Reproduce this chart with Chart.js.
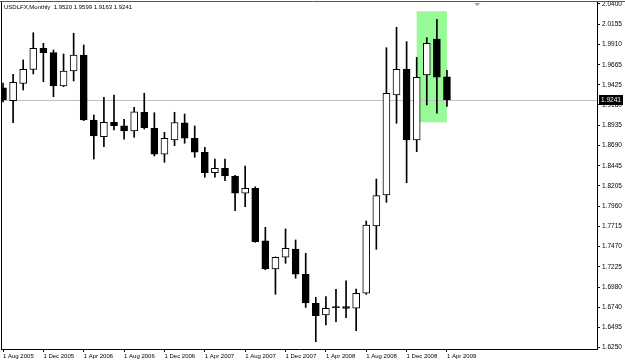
<!DOCTYPE html>
<html>
<head>
<meta charset="utf-8">
<script src="https://cdn.jsdelivr.net/npm/chart.js@4.4.1/dist/chart.umd.min.js"></script>
<style>
  html, body { margin: 0; padding: 0; background: #fff; }
  canvas { display: block; }
</style>
</head>
<body>
<canvas id="chart" width="625" height="361"></canvas>
<script>
// monthly bars, Aug 2005 .. Apr 2009 (index 0..44)
const opens = [1.9386, 1.9232, 1.9442, 1.9611, 1.9865, 1.9812, 1.9410, 1.9591, 1.9784, 1.8999,
  1.8797, 1.8971, 1.8927, 1.8866, 1.9092, 1.8899, 1.8585, 1.8757, 1.8966, 1.8778,
  1.8609, 1.8363, 1.8416, 1.8318, 1.8114, 1.8174, 1.7538, 1.7200, 1.7341, 1.7441,
  1.7136, 1.6785, 1.6644, 1.6740, 1.6746, 1.6725, 1.6906, 1.7719, 1.8093, 1.9301,
  1.9611, 1.8757, 1.9543, 1.9977, 1.9520];
const highs = [1.9446, 1.9551, 1.9724, 2.0053, 1.9925, 1.9844, 1.9796, 2.0046, 1.9905, 1.9059,
  1.9273, 1.9301, 1.9007, 1.9152, 1.9322, 1.9087, 1.8850, 1.9092, 1.9071, 1.8927,
  1.8669, 1.8528, 1.8528, 1.8330, 1.8443, 1.8193, 1.7703, 1.7345, 1.7683, 1.7550,
  1.7389, 1.6858, 1.6865, 1.6954, 1.7055, 1.6958, 1.7779, 1.8286, 1.9872, 2.0119,
  1.9945, 1.9756, 1.9993, 2.0215, 1.9599];
const lows = [1.9216, 1.8966, 1.9361, 1.9555, 1.9462, 1.9280, 1.9401, 1.9470, 1.8991, 1.8528,
  1.8677, 1.8878, 1.8766, 1.8790, 1.8890, 1.8564, 1.8488, 1.8689, 1.8718, 1.8549,
  1.8307, 1.8307, 1.8266, 1.7904, 1.7952, 1.7522, 1.7191, 1.6894, 1.7268, 1.7087,
  1.6735, 1.6321, 1.6523, 1.6563, 1.6611, 1.6454, 1.6894, 1.7437, 1.8005, 1.8959,
  1.8242, 1.8616, 1.9180, 1.9080, 1.9163];
const closes = [1.9241, 1.9454, 1.9611, 1.9865, 1.9812, 1.9410, 1.9591, 1.9784, 1.8999, 1.8806,
  1.8971, 1.8930, 1.8866, 1.9099, 1.8906, 1.8585, 1.8778, 1.8969, 1.8778, 1.8609,
  1.8363, 1.8416, 1.8323, 1.8114, 1.8174, 1.7529, 1.7200, 1.7341, 1.7450, 1.7136,
  1.6789, 1.6636, 1.6725, 1.6733, 1.6722, 1.6906, 1.7731, 1.8085, 1.9322, 1.9611,
  1.8757, 1.9515, 1.9925, 1.9515, 1.9241];

const xTickPos = [0, 4, 8, 12, 16, 20, 24, 28, 32, 36, 40, 44];
const xTickLabels = ['1 Aug 2005', '1 Dec 2005', '1 Apr 2006', '1 Aug 2006', '1 Dec 2006', '1 Apr 2007',
  '1 Aug 2007', '1 Dec 2007', '1 Apr 2008', '1 Aug 2008', '1 Dec 2008', '1 Apr 2009'];
const yTicks = [2.0400, 2.0155, 1.9910, 1.9665, 1.9425, 1.9180, 1.8935, 1.8690, 1.8445,
  1.8205, 1.7960, 1.7715, 1.7470, 1.7225, 1.6980, 1.6740, 1.6495, 1.6250];

// highlighted rectangle (bar index / price)
const boxFrom = 41, boxTo = 44, boxHigh = 2.0313, boxLow = 1.8971;
const symbol = 'USDLFX,Monthly';
const shiftMark = 47;

const last = closes.length - 1;
const bidPrice = closes[last];

const bodies = opens.map((o, i) => ({ x: i, y: [o, closes[i]] }));
const wicks = lows.map((l, i) => ({ x: i, y: [l, highs[i]] }));
const bodyColors = opens.map((o, i) => closes[i] >= o ? '#ffffff' : '#000000');

const font = 'Liberation Sans, Arial, sans-serif';

const overlay = {
  id: 'overlay',
  beforeDatasetsDraw(chart) {
    const { ctx, chartArea: a, scales: { x, y } } = chart;
    ctx.save();
    ctx.fillStyle = '#98fb98';
    const x0 = x.getPixelForValue(boxFrom), x1 = x.getPixelForValue(boxTo);
    const y0 = y.getPixelForValue(boxHigh), y1 = y.getPixelForValue(boxLow);
    ctx.fillRect(x0, y0, x1 - x0, y1 - y0);
    // bid line
    const py = Math.round(y.getPixelForValue(bidPrice)) + 0.5;
    ctx.strokeStyle = '#c0c0c0';
    ctx.lineWidth = 1;
    ctx.beginPath();
    ctx.moveTo(a.left, py);
    ctx.lineTo(a.right, py);
    ctx.stroke();
    ctx.restore();
  },
  afterDraw(chart) {
    const { ctx, chartArea: a, scales: { x, y } } = chart;
    ctx.save();
    ctx.strokeStyle = '#000';
    ctx.lineWidth = 1;
    ctx.beginPath();
    ctx.moveTo(a.left + 0.5, a.top);
    ctx.lineTo(a.left + 0.5, a.bottom);
    ctx.stroke();
    ctx.strokeStyle = '#505860';
    ctx.beginPath();
    ctx.moveTo(0, a.top - 0.5);
    ctx.lineTo(chart.width, a.top - 0.5);
    ctx.stroke();

    // shift marker
    const sx = x.getPixelForValue(shiftMark);
    ctx.fillStyle = '#a0a0a0';
    ctx.beginPath();
    ctx.moveTo(sx - 3, a.top + 1);
    ctx.lineTo(sx + 3, a.top + 1);
    ctx.lineTo(sx, a.top + 4);
    ctx.closePath();
    ctx.fill();

    // price label
    const py = Math.round(y.getPixelForValue(bidPrice));
    ctx.fillStyle = '#000';
    ctx.fillRect(a.right + 2, py - 5, 24, 10);
    ctx.fillStyle = '#fff';
    ctx.font = '6.5px ' + font;
    ctx.textBaseline = 'middle';
    ctx.textAlign = 'left';
    ctx.fillText(bidPrice.toFixed(4), a.right + 4, py + 0.5);

    // header
    ctx.fillStyle = '#000';
    ctx.font = '6px ' + font;
    const head = symbol + '  ' + [opens[last], highs[last], lows[last], closes[last]].map(v => v.toFixed(4)).join(' ');
    ctx.fillText(head, 4, a.top + 5);
    ctx.restore();
  }
};

new Chart(document.getElementById('chart').getContext('2d'), {
  type: 'bar',
  data: {
    datasets: [
      { label: 'body', data: bodies, backgroundColor: bodyColors, borderColor: '#000', borderWidth: 1,
        borderSkipped: false, barThickness: 7, minBarLength: 1, grouped: false, order: 0 },
      { label: 'wick', data: wicks, backgroundColor: '#000', borderWidth: 0,
        barThickness: 1, grouped: false, order: 1 }
    ]
  },
  options: {
    responsive: false,
    animation: false,
    devicePixelRatio: 1,
    layout: { padding: { left: 1, top: 2, right: 0, bottom: 0 } },
    plugins: { legend: { display: false }, tooltip: { enabled: false } },
    scales: {
      x: {
        type: 'linear', min: -0.2, max: 58.87, offset: false,
        grid: { drawOnChartArea: false, tickLength: 3, color: '#000', offset: false },
        border: { color: '#000' },
        ticks: {
          autoSkip: false, maxRotation: 0, align: 'start', padding: 1, color: '#000',
          font: { family: font, size: 6 },
          callback: (v, i) => xTickLabels[i]
        },
        afterBuildTicks: (s) => { s.ticks = xTickPos.map(v => ({ value: v })); },
        afterFit: (s) => { s.height = 12; s.paddingLeft = 0; s.paddingRight = 0; }
      },
      y: {
        position: 'right', min: 1.6233, max: 2.0424,
        grid: { drawOnChartArea: false, tickLength: 3, color: '#000' },
        border: { color: '#000' },
        ticks: {
          autoSkip: false, padding: 2, color: '#000',
          font: { family: font, size: 6.5 },
          callback: (v) => v.toFixed(4)
        },
        afterBuildTicks: (s) => { s.ticks = yTicks.map(v => ({ value: v })); },
        afterFit: (s) => { s.width = 28; s.paddingTop = 0; s.paddingBottom = 0; }
      }
    }
  },
  plugins: [overlay]
});
</script>
</body>
</html>
